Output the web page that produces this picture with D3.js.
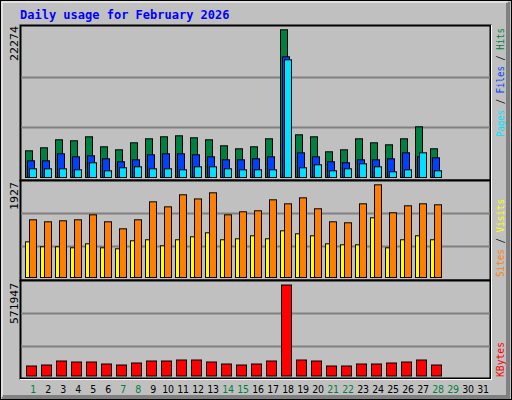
<!DOCTYPE html>
<html><head><meta charset="utf-8">
<script src="https://cdn.jsdelivr.net/npm/d3@7"></script>
<style>body{margin:0;background:#fff}</style></head>
<body><svg id="c" width="512" height="400"></svg>
<script>
const days=[1,2,3,4,5,6,7,8,9,10,11,12,13,14,15,16,17,18,19,20,21,22,23,24,25,26,27,28];
const dayLabels=d3.range(1,32);
const weekendDays=[1,7,8,14,15,21,22,28,29];
const hits=[3990,4440,5636,5486,6084,4589,4141,5187,5785,6084,6234,5935,5636,4739,4290,4589,5785,22080,6383,6084,3842,4141,5785,5187,4888,5785,7579,4290];
const files=[2496,2496,3543,3094,3244,2795,2347,2646,3393,3543,3543,3393,3094,2646,2646,2795,3094,18043,3692,3094,2347,2197,2646,2646,2795,3692,3094,2945];
const pages=[1300,1300,1300,1151,2197,1002,1450,1600,1300,1300,1151,1600,1600,1300,1151,1151,1151,17595,1450,1898,1002,1300,2048,1600,852,1151,3692,1002];
const sites=[1158,1118,1138,1158,1258,1118,977,1158,1519,1418,1660,1577,1700,1258,1319,1339,1559,1479,1599,1379,1118,1098,1479,1860,1299,1439,1479,1459];
const visits=[716,616,616,596,676,596,576,737,757,636,757,817,897,757,777,837,777,937,877,837,676,656,656,1198,596,757,837,757];
const kbytes=[62850,69135,94275,87990,87990,75420,69135,81705,94275,94275,100560,100560,87990,75420,69135,75420,94275,571947,100560,94275,62850,62850,75420,75420,81705,87990,100560,69135];
const maxHits=22274, maxVisits=1927, maxKB=571947;

const svg=d3.select("#c");
svg.append("rect").attr("x",0.5).attr("y",0.5).attr("width",511).attr("height",399).attr("fill","#c0c0c0").attr("stroke","#000");
svg.append("path").attr("d","M508,2V397H2").attr("fill","none").attr("stroke","#808080").attr("stroke-width",4);
svg.append("path").attr("d","M2,397V2H508").attr("fill","none").attr("stroke","#fff").attr("stroke-width",1);
svg.append("text").attr("x",20).attr("y",19).text("Daily usage for February 2026")
 .attr("font-family","DejaVu Sans Mono").attr("font-weight","bold").attr("font-size",12).attr("fill","#0000ff");

const x=d3.scaleLinear().domain([1,32]).range([25,490]);
function panel(y0,y1,grids){
  svg.append("rect").attr("x",20.5).attr("y",y0+0.5).attr("width",470).attr("height",y1-y0).attr("fill","#c0c0c0").attr("stroke","#000").attr("stroke-width",2);
  grids.forEach(g=>svg.append("line").attr("x1",21).attr("x2",490).attr("y1",g+0.5).attr("y2",g+0.5).attr("stroke","#808080").attr("stroke-width",2));
}
panel(25,180,[77,127]);
panel(180,280,[213,246]);
panel(280,378,[313,346]);
svg.append("line").attr("x1",491.5).attr("x2",491.5).attr("y1",25).attr("y2",379).attr("stroke","#fff");
svg.append("line").attr("x1",20).attr("x2",492).attr("y1",379.5).attr("y2",379.5).attr("stroke","#fff");

const yTop=d3.scaleLinear().domain([0,maxHits]).range([177,28]);
const yMid=d3.scaleLinear().domain([0,maxVisits]).range([277,181]);
const yBot=d3.scaleLinear().domain([0,maxKB]).range([375.5,284.5]);

function bars(data,y,off,w,color){
  svg.append("g").selectAll("rect").data(days).join("rect")
   .attr("x",d=>x(d)+off+0.5).attr("width",w)
   .attr("y",(d,i)=>y(data[i])+0.5).attr("height",(d,i)=>y(0)-y(data[i]))
   .attr("fill",color).attr("stroke","#000");
}
bars(hits,yTop,0,7,"#008040");
bars(files,yTop,2,7,"#0040ff");
bars(pages,yTop,4,7,"#00e0ff");
bars(visits,yMid,0,4,"#ffff00");
bars(sites,yMid,4,7,"#ff8000");
bars(kbytes,yBot,1,10,"#ff0000");

svg.append("g").selectAll("text").data(dayLabels).join("text")
 .attr("x",d=>x(d)+8).attr("y",393).attr("text-anchor","middle")
 .attr("font-family","DejaVu Sans Condensed, DejaVu Sans").attr("font-stretch","condensed").attr("font-size",10.5)
 .attr("letter-spacing",-0.3)
 .attr("fill",d=>weekendDays.includes(d)?"#008040":"#000").text(d=>d);

function vtext(xp,yp,parts,anchor,len){
  const t=svg.append("text").attr("transform",`translate(${xp},${yp}) rotate(-90)`)
   .attr("font-family","DejaVu Sans Mono").attr("font-size",10).attr("text-anchor",anchor);
  if(len) t.attr("textLength",len).attr("lengthAdjust","spacingAndGlyphs");
  parts.forEach(p=>t.append("tspan").attr("fill",p[1]).text(p[0]));
}
vtext(18,26,[[String(maxHits),"#000"]],"end",35);
vtext(18,182,[[String(maxVisits),"#000"]],"end",28);
vtext(18,283,[[String(maxKB),"#000"]],"end",41);
vtext(504,137,[["Pages","#00e0ff"],[" / ","#000"],["Files","#0040ff"],[" / ","#000"],["Hits","#008040"]],"start",109);
vtext(504,277,[["Sites","#ff8000"],[" / ","#000"],["Visits","#ffff00"]],"start",78);
vtext(504,377,[["KBytes","#ff0000"]],"start",35);
</script></body></html>
